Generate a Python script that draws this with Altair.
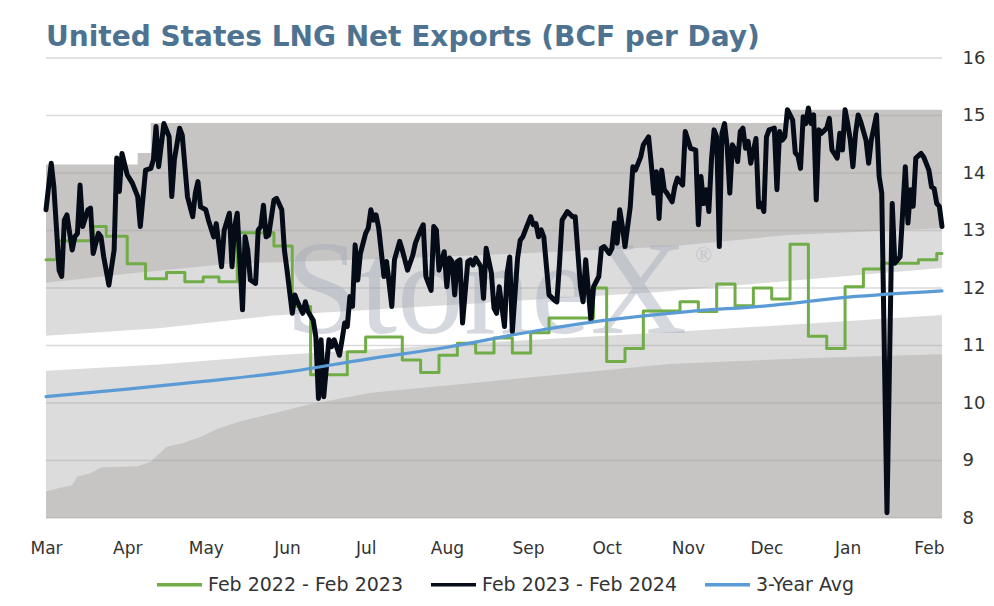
import pandas as pd
import altair as alt

# all dates are days counted from 1 Mar 2023
BASE = pd.Timestamp("2023-03-01")

series = ["Feb 2022 - Feb 2023", "Feb 2023 - Feb 2024", "3-Year Avg"]
series_colors = ["#70ad47", "#050c18", "#5b9bd5"]

black_days = [0, 2, 3, 5, 6, 7, 8, 10, 11, 12, 13, 14, 16, 17, 18, 20, 21, 22, 24, 26,
              27, 28, 29, 31, 33, 35, 36, 38, 40, 41, 42, 43, 45, 47, 48, 49, 51, 52, 54, 56,
              57, 58, 59, 61, 62, 64, 65, 67, 68, 70, 71, 72, 73, 75, 76, 77, 78, 80, 81, 82,
              83, 84, 85, 87, 88, 90, 91, 92, 94, 95, 96, 98, 99, 100, 102, 103, 104, 105, 106, 108,
              109, 110, 112, 113, 114, 115, 116, 117, 118, 119, 120, 122, 123, 124, 125, 126, 127, 129, 130, 132,
              133, 135, 136, 138, 140, 141, 143, 144, 145, 147, 148, 149, 150, 152, 153, 154, 155, 156, 157, 158,
              159, 161, 162, 163, 164, 166, 167, 168, 170, 171, 172, 173, 175, 176, 177, 178, 180, 181, 182, 183,
              185, 186, 187, 188, 189, 190, 192, 194, 195, 196, 197, 199, 201, 202, 204, 205, 206, 207, 208, 209,
              211, 212, 213, 215, 216, 217, 218, 219, 220, 221, 223, 224, 225, 227, 228, 230, 231, 232, 233, 234,
              235, 236, 237, 239, 240, 241, 243, 244, 246, 248, 249, 250, 251, 252, 253, 254, 255, 256, 257, 258,
              259, 260, 261, 262, 263, 264, 265, 266, 267, 268, 269, 271, 272, 273, 274, 275, 276, 278, 279, 280,
              281, 282, 283, 285, 286, 287, 288, 289, 290, 291, 292, 293, 294, 295, 296, 298, 299, 300, 302, 303,
              304, 305, 306, 307, 308, 309, 310, 311, 313, 314, 315, 317, 318, 319, 321, 323, 324, 326, 328, 329,
              330, 331, 332, 334, 335, 337, 338, 339, 340, 341, 342]
black_vals = [13.36, 14.17, 13.76, 12.31, 12.2, 13.18, 13.27, 12.66, 12.89, 12.95, 13.79, 13.07, 13.36, 13.39, 12.6, 12.95, 12.89, 12.55, 12.05, 12.66,
              14.26, 13.68, 14.34, 13.97, 13.82, 13.59, 13.07, 14.05, 14.08, 14.23, 14.81, 14.11, 14.86, 14.63, 13.59, 14.23, 14.78, 14.66, 13.59, 13.24,
              13.65, 13.85, 13.41, 13.36, 13.18, 12.89, 13.12, 12.37, 13.0, 13.3, 12.37, 13.07, 13.3, 11.62, 12.89, 12.66, 12.14, 12.08, 13.01, 13.07,
              13.44, 12.89, 12.92, 13.53, 13.56, 13.36, 12.66, 12.31, 11.56, 11.88, 11.76, 11.56, 11.76, 11.59, 11.44, 11.15, 10.08, 11.1, 10.11, 11.1,
              10.98, 11.1, 10.83, 11.1, 11.39, 11.33, 11.85, 11.68, 12.75, 12.14, 12.6, 12.95, 13.04, 13.36, 13.18, 13.27, 13.04, 12.2, 12.46, 11.68,
              12.49, 12.81, 12.66, 12.31, 12.57, 12.78, 13.01, 13.1, 12.2, 11.96, 13.07, 13.01, 12.31, 12.63, 12.02, 12.52, 12.46, 11.88, 12.46, 12.49,
              11.39, 12.46, 12.49, 12.4, 12.52, 12.37, 11.82, 12.69, 12.26, 11.65, 11.56, 12.02, 11.33, 12.26, 12.54, 11.24, 12.52, 12.83, 12.89, 13.01,
              13.24, 13.1, 13.12, 12.89, 13.01, 12.89, 11.88, 11.79, 11.76, 12.43, 13.18, 13.33, 13.24, 13.24, 12.02, 11.76, 12.49, 11.96, 11.44, 12.02,
              12.2, 12.69, 12.72, 12.6, 12.69, 13.13, 12.78, 13.36, 13.07, 12.72, 13.41, 14.11, 14.05, 14.28, 14.49, 14.63, 14.17, 13.65, 14.02, 13.21,
              14.05, 13.71, 13.65, 13.5, 13.76, 13.91, 13.79, 14.72, 14.43, 14.4, 13.1, 13.94, 13.47, 13.71, 13.33, 14.23, 14.75, 14.63, 12.72, 14.69,
              14.86, 14.46, 13.65, 14.49, 14.4, 14.2, 14.72, 14.78, 14.43, 14.55, 14.17, 14.6, 13.41, 13.47, 13.33, 14.63, 14.75, 14.78, 13.71, 14.72,
              14.57, 14.63, 15.1, 14.92, 14.35, 14.3, 14.08, 14.98, 14.86, 15.13, 14.86, 15.01, 13.53, 14.75, 14.69, 14.78, 14.95, 14.4, 14.26, 14.69,
              14.4, 15.1, 14.86, 14.57, 14.11, 14.69, 15.01, 14.89, 14.57, 14.17, 14.57, 15.01, 13.94, 13.65, 8.09, 13.47, 12.43, 12.54, 14.11, 13.13,
              13.71, 13.42, 14.26, 14.34, 14.28, 14.05, 13.76, 13.73, 13.47, 13.42, 13.07]

green_days = [0, 4, 18, 23, 31, 38, 46, 53, 60, 66, 73, 87, 94, 101, 115, 122, 136, 143, 150, 157,
              164, 171, 178, 185, 192, 209, 214, 221, 228, 242, 249, 256, 263, 270, 277, 284, 291, 298, 305, 312,
              319, 333, 340, 342]
green_vals = [12.49, 12.82, 13.07, 12.9, 12.42, 12.16, 12.27, 12.11, 12.19, 12.11, 12.96, 12.73, 11.68, 10.49, 10.89, 11.15, 10.75, 10.53, 10.83, 11.04,
              10.87, 11.13, 10.87, 11.22, 11.48, 12.0, 10.72, 10.95, 11.6, 11.76, 11.59, 12.07, 11.69, 12.0, 11.81, 12.76, 11.16, 10.95, 12.02, 12.33,
              12.43, 12.49, 12.6, 12.6]

avg_days = [0, 31, 61, 92, 122, 153, 184, 214, 245, 275, 306, 342]
avg_vals = [10.11, 10.24, 10.38, 10.54, 10.76, 10.97, 11.23, 11.44, 11.59, 11.69, 11.84, 11.95]

# background range bands
max_days = [0, 35, 40, 283, 342]
max_vals = [14.15, 14.35, 14.87, 15.1, 15.1]
upper_days = [0, 31, 70, 124, 170, 238, 283, 342]
upper_vals = [12.09, 12.25, 12.42, 12.5, 12.58, 12.72, 12.92, 13.04]
mid_days = [0, 43, 87, 124, 170, 234, 290, 342]
mid_top = [11.17, 11.3, 11.52, 11.62, 11.75, 11.93, 12.15, 12.35]
mid_bottom = [10.56, 10.67, 10.83, 10.93, 11.06, 11.22, 11.38, 11.53]
low_days = [0, 5, 10, 12, 17, 21, 35, 40, 46, 52, 59, 66, 74, 87, 100, 124, 170, 238, 290, 342]
low_vals = [8.46, 8.52, 8.57, 8.72, 8.78, 8.88, 8.9, 8.98, 9.24, 9.3, 9.41, 9.56, 9.68, 9.82, 9.97, 10.18, 10.38, 10.68, 10.78, 10.85]

y_ticks = [8, 9, 10, 11, 12, 13, 14, 15, 16]
month_starts = [(2023, m) for m in range(3, 13)] + [(2024, 1), (2024, 2)]

FONT = "DejaVu Sans"
DARK = "#c6c5c4"
LIGHT = "#dcdcdc"


def frame(days, **cols):
    df = pd.DataFrame(cols)
    df["date"] = BASE + pd.to_timedelta(days, unit="D")
    return df


x_scale = alt.Scale(domain=[alt.DateTime(year=2023, month=3, date=1),
                            alt.DateTime(year=2024, month=2, date=6)])
y_scale = alt.Scale(domain=[8, 16], nice=False)

x_axis = alt.Axis(values=[alt.DateTime(year=y, month=m, date=1) for y, m in month_starts],
                  format="%b", title=None, ticks=False, domain=False, grid=False,
                  labelFlush=False, labelFontSize=17, labelFont=FONT, labelColor="#333333",
                  labelPadding=22)
y_axis = alt.Axis(values=y_ticks, orient="right", title=None, ticks=False, domain=False,
                  grid=False, labelFontSize=18, labelFont=FONT, labelColor="#333333",
                  labelPadding=20)

X = alt.X("date:T", scale=x_scale, axis=x_axis)


def Y(field):
    return alt.Y(field, scale=y_scale, axis=y_axis)


max_band = alt.Chart(frame(max_days, v=max_vals)).mark_area(
    color=DARK, interpolate="step-after").encode(x=X, y=Y("v:Q"), y2=alt.datum(8))

upper_band = alt.Chart(frame(upper_days, v=upper_vals)).mark_area(color=LIGHT).encode(
    x=X, y=Y("v:Q"), y2=alt.datum(8))

mid_band = alt.Chart(frame(mid_days, top=mid_top, bottom=mid_bottom)).mark_area(color="white").encode(
    x=X, y=Y("top:Q"), y2="bottom:Q")

low_band = alt.Chart(frame(low_days, v=low_vals)).mark_area(color=DARK).encode(
    x=X, y=Y("v:Q"), y2=alt.datum(8))

grid = alt.Chart(pd.DataFrame({"v": y_ticks})).mark_rule(
    color="#a0a0a0", opacity=0.4, strokeWidth=1.3).encode(y=Y("v:Q"))

mark_df = pd.DataFrame({
    "date": [BASE + pd.Timedelta(days=168), BASE + pd.Timedelta(days=251)],
    "v": [11.22, 12.45],
    "t": ["StoneX", "®"],
    "s": [134, 22],
})
watermark = alt.Chart(mark_df).mark_text(
    font="Liberation Serif", color="#a3aab8", opacity=0.45, align="center",
    baseline="alphabetic").encode(
    x=X, y=Y("v:Q"), text="t:N",
    size=alt.Size("s:Q", scale=None, legend=None))

legend = alt.Legend(
    title=None, orient="none", legendX=109, legendY=502, direction="horizontal",
    symbolType="stroke", symbolSize=2025, symbolStrokeWidth=3.5, labelLimit=400,
    labelFont=FONT, labelFontSize=19, labelColor="#333333", columnPadding=20, labelOffset=4,
)
color = alt.Color("series:N", scale=alt.Scale(domain=series, range=series_colors), legend=legend)


def line_layer(days, vals, name, **kw):
    df = frame(days, v=vals)
    df["series"] = name
    return alt.Chart(df).mark_line(strokeCap="round", strokeJoin="round", **kw).encode(
        x=X, y=Y("v:Q"), color=color)


green = line_layer(green_days, green_vals, series[0], interpolate="step-after", strokeWidth=3)
black = line_layer(black_days, black_vals, series[1], strokeWidth=5)
avg = line_layer(avg_days, avg_vals, series[2], interpolate="monotone", strokeWidth=3.2)

chart = alt.layer(max_band, upper_band, mid_band, low_band, grid, watermark, green, black, avg).properties(
    width=896, height=460,
    padding={"left": 38, "top": 50, "right": 44, "bottom": 80},
    autosize=alt.AutoSizeParams(type="none"),
    title=alt.TitleParams(
        "United States LNG Net Exports (BCF per Day)", anchor="start", frame="group",
        font=FONT, fontSize=28, fontWeight="bold", color="#4d7390", offset=-3),
).configure_view(strokeWidth=0)

chart.save("out.html", embed_options={"renderer": "svg", "actions": False})
